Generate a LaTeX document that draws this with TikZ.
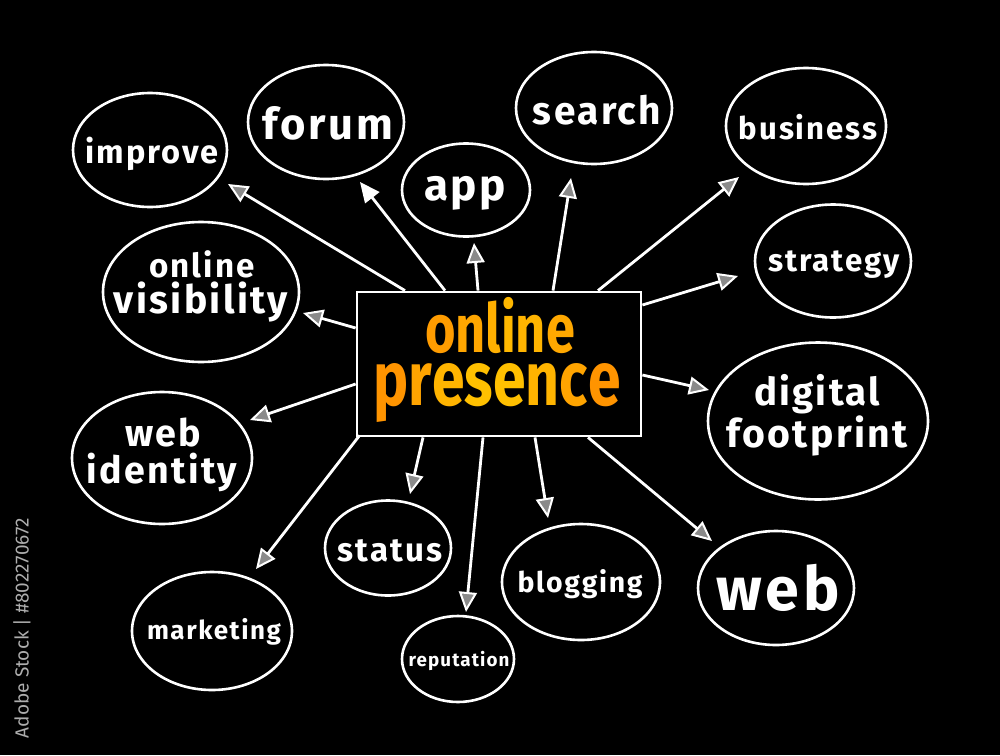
\documentclass[tikz,border=0pt]{standalone}
\usepackage{fontspec}
\setmainfont{Fira Sans}
\usetikzlibrary{shapes.geometric,arrows.meta,calc}
\newcommand{\fw}[2]{\resizebox{#1pt}{!}{\addfontfeature{LetterSpace=6}#2}}
\newcommand{\fwc}[3]{\resizebox{#1pt}{!}{\scalebox{1}[#2]{\addfontfeature{LetterSpace=2}#3}}}
\newcommand{\cl}[2]{\textcolor[HTML]{#1}{#2}}
\definecolor{hatch}{HTML}{8A8A8A}
\begin{document}
\begin{tikzpicture}[x=1pt,y=-1pt,
  bub/.style 2 args={draw=white, line width=2.6pt, ellipse, inner sep=0pt,
    minimum width=#1pt, minimum height=#2pt},
  lbl/.style={text=white, anchor=base, inner sep=0pt, font=\bfseries},
  conn/.style={draw=white, line width=2.8pt,
    -{Triangle[length=20pt,width=18pt,line width=2pt,fill=hatch]}},
  connf/.style={draw=white, line width=2.8pt,
    -{Triangle[length=20pt,width=18pt,line width=2pt,fill=white]}},
  stamp/.style={text=white!68!black, inner sep=0pt, rotate=90},
]
\fill[black] (0,0) rectangle (1000,755);
\useasboundingbox (0,0) rectangle (1000,755);

% central box
\node (box) [draw=white, line width=2.8pt, minimum width=284pt, minimum height=144pt, inner sep=0pt] at (499,364) {};
\node (c1) [lbl] at (500,352) {\fwc{150}{1.3}{\cl{FF9C00}{o}\cl{FFA600}{n}\cl{FFB000}{l}\cl{FFB800}{i}\cl{FFB400}{n}\cl{FFA800}{e}}};
\node (c2) [lbl] at (497,405) {\fwc{247}{1.3}{\cl{FF9400}{p}\cl{FFA400}{r}\cl{FFB400}{e}\cl{FFC000}{s}\cl{FFC000}{e}\cl{FFB400}{n}\cl{FFA400}{c}\cl{FF9400}{e}}};

% bubbles
\node (improve) [bub={154}{114}] at (150,150) {};
\node (forum) [bub={156}{114}] at (326,122) {};
\node (app) [bub={128}{93}] at (466,190) {};
\node (search) [bub={156}{112}] at (594,108) {};
\node (business) [bub={160}{116}] at (806,126) {};
\node (strategy) [bub={156}{113}] at (833,261) {};
\node (vis) [bub={196}{140}] at (201,292) {};
\node (digital) [bub={220}{157}] at (818,421) {};
\node (webid) [bub={180}{132}] at (162,458) {};
\node (status) [bub={126}{95}] at (388,548) {};
\node (blogging) [bub={158}{116}] at (581,582) {};
\node (web) [bub={156}{114}] at (776,588) {};
\node (marketing) [bub={160}{118}] at (212,631) {};
\node (reputation) [bub={112}{86}] at (458,659) {};

% labels
\node (timprove) [lbl] at (152,163) {\fw{133}{improve}};
\node (tforum) [lbl] at (328,139) {\fw{130}{forum}};
\node (tapp) [lbl] at (465,200) {\fw{82}{app}};
\node (tsearch) [lbl] at (597,124) {\fw{128}{search}};
\node (tbusiness) [lbl] at (808,139) {\fw{138}{business}};
\node (tstrategy) [lbl] at (834,271) {\fw{131}{strategy}};
\node (tvis1) [lbl] at (202,277) {\fw{105}{online}};
\node (tvis2) [lbl] at (201,313) {\fw{174}{visibility}};
\node (tdig1) [lbl] at (817,405) {\fw{126}{digital}};
\node (tdig2) [lbl] at (817,447) {\fw{181}{footprint}};
\node (twid1) [lbl] at (163,446) {\fw{76}{web}};
\node (twid2) [lbl] at (162,483) {\fw{150}{identity}};
\node (tstatus) [lbl] at (390,561) {\fw{104}{status}};
\node (tblogging) [lbl] at (580,592) {\fw{125}{blogging}};
\node (tweb) [lbl] at (778,610) {\fw{123}{web}};
\node (tmarketing) [lbl] at (214,639) {\fw{134}{marketing}};
\node (treputation) [lbl] at (459,666) {\fw{101}{reputation}};

% arrow tips
\coordinate (p1) at (228,184);
\coordinate (p2) at (360,182);
\coordinate (p3) at (474,243);
\coordinate (p4) at (571,178);
\coordinate (p5) at (739,177);
\coordinate (p6) at (738,276);
\coordinate (p7) at (303,313);
\coordinate (p8) at (709,390);
\coordinate (p9) at (250,420);
\coordinate (p10) at (256,569);
\coordinate (p11) at (410,494);
\coordinate (p12) at (466,612);
\coordinate (p13) at (548,518);
\coordinate (p14) at (712,541);

% connectors
\draw[conn] ([xshift=-94pt]box.north) -- (p1);
\draw[connf] ([xshift=-54pt]box.north) -- (p2);
\draw[conn] ([xshift=-21pt]box.north) -- (p3);
\draw[conn] ([xshift=54pt]box.north) -- (p4);
\draw[conn] ([xshift=99pt]box.north) -- (p5);
\draw[conn] ([yshift=59pt]box.east) -- (p6);
\draw[conn] ([yshift=36pt]box.west) -- (p7);
\draw[conn] ([yshift=-11pt]box.east) -- (p8);
\draw[conn] ([yshift=-20pt]box.west) -- (p9);
\draw[conn] ([xshift=4pt,yshift=2pt]box.south west) -- (p10);
\draw[conn] ([xshift=-76pt]box.south) -- (p11);
\draw[conn] ([xshift=-16pt]box.south) -- (p12);
\draw[conn] ([xshift=36pt]box.south) -- (p13);
\draw[conn] ([xshift=89pt]box.south) -- (p14);

% stock stamp
\node (stamp) [stamp] at (22,628) {\resizebox{220pt}{!}{Adobe Stock \textbar\ \#802270672}};
\end{tikzpicture}
\end{document}
